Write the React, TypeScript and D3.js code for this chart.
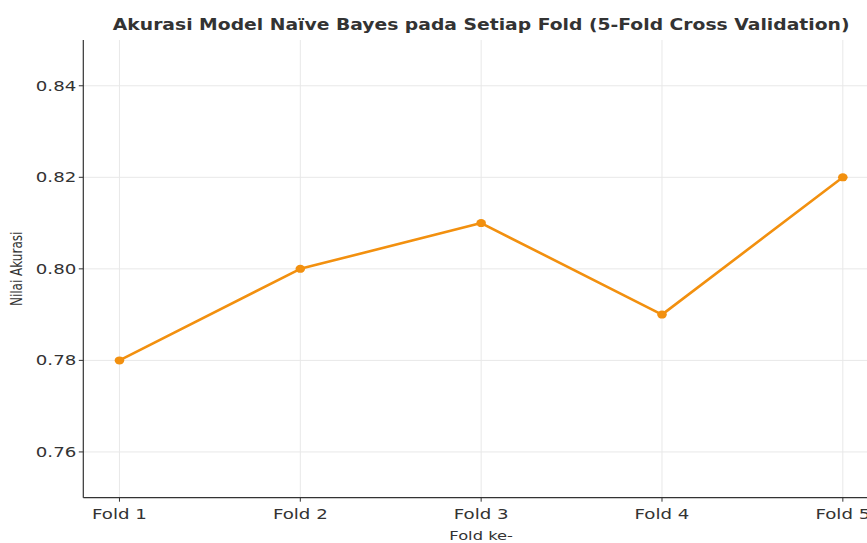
import React from "react";
import * as d3 from "d3";

const folds: string[] = ["Fold 1", "Fold 2", "Fold 3", "Fold 4", "Fold 5"];
const accuracy: number[] = [0.78, 0.8, 0.81, 0.79, 0.82];
const yTicks: number[] = [0.76, 0.78, 0.8, 0.82, 0.84];

const W = 867;
const H = 543;
const left = 83.3;
const right = 879;
const top = 40;
const bottom = 497.7;
const COLOR = "#F2900F";
const FONT = "DejaVu Sans, sans-serif";
const SX = 1.3; // horizontal stretch of the reference image

export default function App() {
  const x = d3.scaleLinear().domain([-0.2, folds.length - 1 + 0.2]).range([left, right]);
  const y = d3.scaleLinear().domain([0.75, 0.85]).range([bottom, top]);
  const line = d3
    .line<number>()
    .x((_, i) => x(i))
    .y((d) => y(d));

  return (
    <svg
      width={W}
      height={H}
      style={{ position: "absolute", left: 0, top: 0, background: "#fff" }}
      fontFamily={FONT}
    >
      <defs>
        <clipPath id="plot">
          <rect x={left} y={top} width={right - left} height={bottom - top} />
        </clipPath>
      </defs>
      <g stroke="#e8e8e8" strokeWidth={1}>
        {folds.map((_, i) => (
          <line key={"gx" + i} x1={x(i)} x2={x(i)} y1={top} y2={bottom} />
        ))}
        {yTicks.map((t) => (
          <line key={"gy" + t} x1={left} x2={right} y1={y(t)} y2={y(t)} />
        ))}
      </g>
      <g clipPath="url(#plot)">
        <path d={line(accuracy) || ""} fill="none" stroke={COLOR} strokeWidth={2.6} strokeLinejoin="round" />
        {accuracy.map((v, i) => (
          <ellipse key={i} cx={x(i)} cy={y(v)} rx={4.8} ry={4} fill={COLOR} />
        ))}
      </g>
      <line x1={left} x2={left} y1={top} y2={bottom} stroke="#333" strokeWidth={1.2} />
      <line x1={left} x2={right} y1={bottom} y2={bottom} stroke="#333" strokeWidth={1.2} />
      {yTicks.map((t) => (
        <g key={"yt" + t}>
          <line x1={left - 4.5} x2={left} y1={y(t)} y2={y(t)} stroke="#333" strokeWidth={1} />
          <text
            transform={`translate(${left - 7},${y(t)}) scale(${SX},1)`}
            dy="0.36em"
            textAnchor="end"
            fontSize={14}
            fill="#333"
          >
            {t.toFixed(2)}
          </text>
        </g>
      ))}
      {folds.map((f, i) => (
        <g key={"xt" + i}>
          <line x1={x(i)} x2={x(i)} y1={bottom} y2={bottom + 4} stroke="#333" strokeWidth={1} />
          <text
            transform={`translate(${x(i)},${bottom + 21}) scale(${SX},1)`}
            textAnchor="middle"
            fontSize={14}
            fill="#333"
          >
            {f}
          </text>
        </g>
      ))}
      <text
        transform={`translate(${(left + right) / 2},540) scale(1.36,1)`}
        textAnchor="middle"
        fontSize={12}
        fill="#333"
      >
        Fold ke-
      </text>
      <text
        transform={`translate(22, ${(top + bottom) / 2}) scale(${SX},1) rotate(-90)`}
        textAnchor="middle"
        fontSize={12}
        fill="#333"
      >
        Nilai Akurasi
      </text>
      <text
        transform={`translate(${(left + right) / 2},30) scale(1.25,1)`}
        textAnchor="middle"
        fontSize={15}
        fontWeight="bold"
        fill="#333"
      >
        Akurasi Model Naïve Bayes pada Setiap Fold (5-Fold Cross Validation)
      </text>
    </svg>
  );
}
